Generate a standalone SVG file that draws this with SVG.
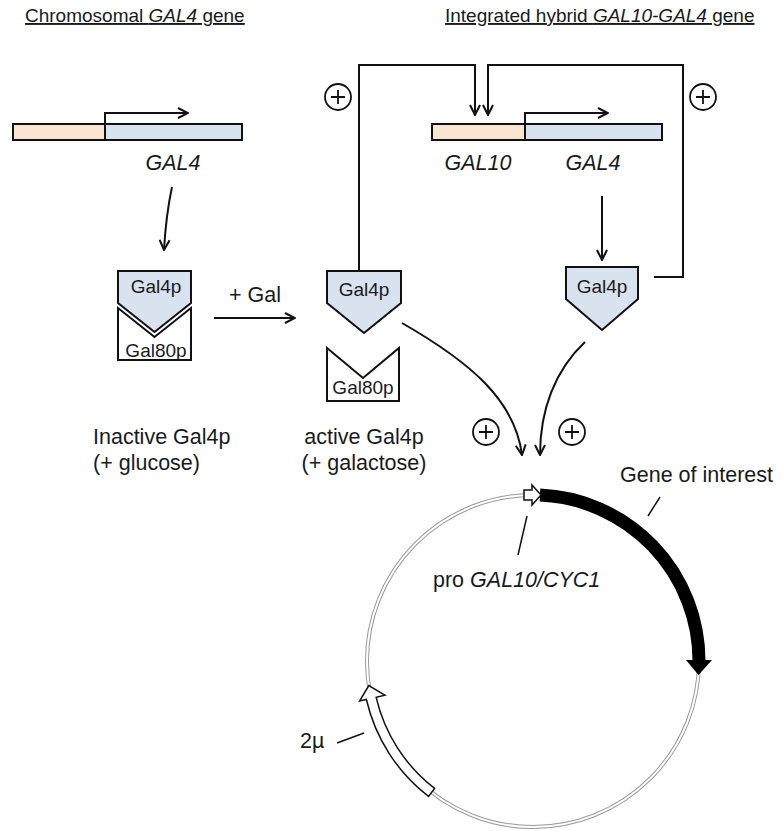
<svg xmlns="http://www.w3.org/2000/svg" width="784" height="831" viewBox="0 0 784 831">
<style>
  text { font-family: "Liberation Sans", Arial, sans-serif; fill: #1a1a1a; }
  .title { font-size: 19px; text-decoration: underline; }
  .lbl { font-size: 21.5px; }
  .gene { font-size: 21.5px; font-style: italic; }
  .box { font-size: 19px; text-anchor: middle; }
  .ln { fill: none; stroke: #111; stroke-width: 2; }
  .thin { fill: none; stroke: #111; stroke-width: 1.5; }
  .tan { fill: #FAE4D2; stroke: #111; stroke-width: 2; }
  .blue { fill: #D9E2EF; stroke: #111; stroke-width: 2; }
  .wh { fill: #fff; stroke: #111; stroke-width: 2; }
  .plus { fill: none; stroke: #111; stroke-width: 1.8; }
</style>
<defs>
  <marker id="ah" viewBox="0 0 12 12" refX="11" refY="6" markerWidth="12" markerHeight="12" markerUnits="userSpaceOnUse" orient="auto">
    <path d="M1,1 L11,6 L1,11" fill="none" stroke="#111" stroke-width="2"/>
  </marker>
  <g id="plus">
    <circle cx="0" cy="0" r="13" class="plus"/>
    <path d="M-7,0 H7 M0,-7 V7" class="plus"/>
  </g>
</defs>

<g id="titles">
  <text class="title" x="25" y="22">Chromosomal <tspan font-style="italic">GAL4</tspan> gene</text>
  <text class="title" x="445" y="22">Integrated hybrid <tspan font-style="italic">GAL10-GAL4</tspan> gene</text>
</g>

<g id="chromosomal-gene">
  <rect x="13" y="124" width="92" height="16" class="tan"/>
  <rect x="105" y="124" width="137" height="16" class="blue"/>
  <path d="M105,124 V113 H188" class="ln" marker-end="url(#ah)"/>
  <text class="gene" x="173" y="170" text-anchor="middle">GAL4</text>
</g>

<g id="hybrid-gene">
  <rect x="432" y="124" width="93" height="16" class="tan"/>
  <rect x="525" y="124" width="137" height="16" class="blue"/>
  <path d="M525,124 V113 H608" class="ln" marker-end="url(#ah)"/>
  <text class="gene" x="478" y="170" text-anchor="middle">GAL10</text>
  <text class="gene" x="593" y="170" text-anchor="middle">GAL4</text>
</g>

<g id="inactive-complex">
  <polygon points="118,308 154.5,337 191,308 191,360 118,360" class="wh"/>
  <polygon points="118,271 191,271 191,303 154.5,332 118,303" class="blue"/>
  <text class="box" x="156" y="293">Gal4p</text>
  <text class="box" x="156" y="357">Gal80p</text>
</g>

<g id="active-gal4p">
  <polygon points="327,271 401,271 401,303 364,333 327,303" class="blue"/>
  <text class="box" x="364" y="296">Gal4p</text>
</g>

<g id="free-gal80p">
  <polygon points="327,348 363,378 399,348 399,401 327,401" class="wh"/>
  <text class="box" x="363" y="394">Gal80p</text>
</g>

<g id="hybrid-gal4p">
  <polygon points="566,267 638,267 638,299 602,330 566,299" class="blue"/>
  <text class="box" x="602" y="293">Gal4p</text>
</g>

<g id="labels">
  <text class="lbl" x="229" y="302">+ Gal</text>
  <text class="lbl" x="93" y="444">Inactive Gal4p</text>
  <text class="lbl" x="93" y="470">(+ glucose)</text>
  <text class="lbl" x="364" y="444" text-anchor="middle">active Gal4p</text>
  <text class="lbl" x="364" y="470" text-anchor="middle">(+ galactose)</text>
  <text class="lbl" x="620" y="482">Gene of interest</text>
  <text class="lbl" x="433" y="587">pro <tspan font-style="italic">GAL10/CYC1</tspan></text>
  <text class="lbl" x="300" y="748">2µ</text>
</g>

<g id="plus-signs">
  <use href="#plus" x="338" y="97"/>
  <use href="#plus" x="703" y="97"/>
  <use href="#plus" x="486" y="432"/>
  <use href="#plus" x="572" y="432"/>
</g>

<g id="connectors">
  <path d="M172,187 Q166,215 164,250" class="ln" marker-end="url(#ah)"/>
  <path d="M214,318 H295" class="ln" marker-end="url(#ah)"/>
  <path d="M602,196 V260" class="ln" marker-end="url(#ah)"/>
  <path d="M359,271 V65 H475 V115" class="ln" marker-end="url(#ah)"/>
  <path d="M654,277 H683 V65 H488 V115" class="ln" marker-end="url(#ah)"/>
  <path d="M402,323 C470,362 515,400 522,455" class="ln" marker-end="url(#ah)"/>
  <path d="M585,342 C555,370 540,410 540,455" class="ln" marker-end="url(#ah)"/>
  <path d="M660,497 L648,516" class="thin"/>
  <path d="M527,516 L518,555" class="thin"/>
  <path d="M337,743 L364,733" class="thin"/>
</g>

<g id="plasmid">
  <circle cx="533" cy="661" r="166" fill="none" stroke="#999" stroke-width="4"/>
  <circle cx="533" cy="661" r="166" fill="none" stroke="#fff" stroke-width="2"/>
  <path d="M540,495.1 A166,166 0 0 1 699,661" fill="none" stroke="#000" stroke-width="13"/>
  <polygon points="686,660 712,660 698.5,675" fill="#000"/>
  <polygon points="524,490 532,490 532,485 541,495 532,505 532,500 524,500" fill="#fff" stroke="#111" stroke-width="1.5"/>
  <path d="M434.6,788.4 A161,161 0 0 1 376.1,697.2 L384.9,695.2 L368.8,685.5 L359.6,701.0 L366.4,699.5 A171,171 0 0 0 428.5,796.4 Z" fill="#fff" stroke="#111" stroke-width="1.5"/>
</g>
</svg>
